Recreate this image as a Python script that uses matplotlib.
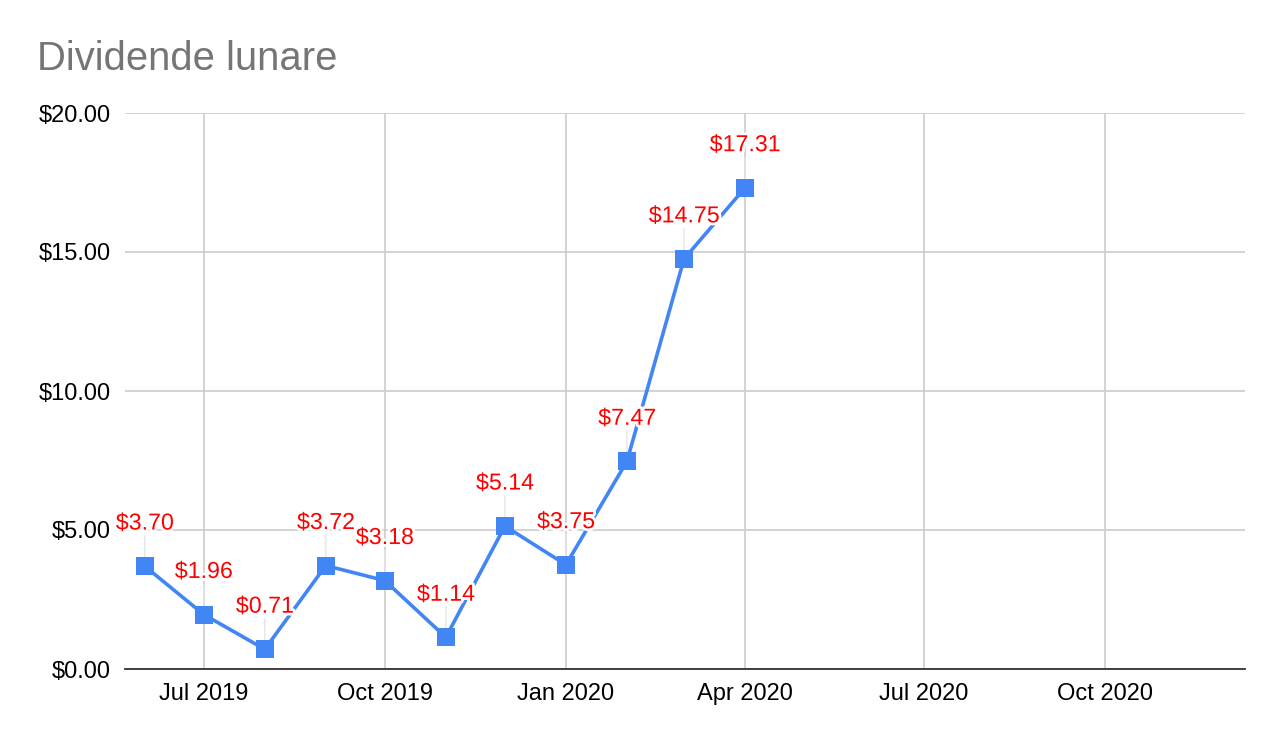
import datetime as dt
import matplotlib
matplotlib.use('Agg')
import matplotlib.pyplot as plt
import matplotlib.dates as mdates
import matplotlib.patheffects as pe

plt.rcParams['font.family'] = ['Liberation Sans', 'DejaVu Sans']

# monthly dividends
months = ['2019-06', '2019-07', '2019-08', '2019-09', '2019-10', '2019-11',
          '2019-12', '2020-01', '2020-02', '2020-03', '2020-04']
values = [3.70, 1.96, 0.71, 3.72, 3.18, 1.14, 5.14, 3.75, 7.47, 14.75, 17.31]
tick_months = ['2019-07', '2019-10', '2020-01', '2020-04', '2020-07', '2020-10']
yticks = [0, 5, 10, 15, 20]

dates = [dt.datetime.strptime(m, '%Y-%m') for m in months]
tdates = [dt.datetime.strptime(m, '%Y-%m') for m in tick_months]

fig = plt.figure(figsize=(12.82, 7.42), dpi=100)
ax = fig.add_axes([125 / 1282, 1 - 669 / 742, 1120 / 1282, 556 / 742])

blue = '#4285F4'
ax.plot(dates, values, color=blue, lw=2.6, marker='s', ms=12.5, zorder=3,
        markeredgewidth=0)

# data labels with leader lines
for d, v in zip(dates, values):
    ax.annotate('', xy=(d, v), xytext=(0, 22), textcoords='offset points',
                arrowprops=dict(arrowstyle='-', color='#e6e6e6', lw=1,
                                shrinkA=0, shrinkB=6), zorder=2)
    ax.annotate(f'${v:.2f}', xy=(d, v), xytext=(0, 31), textcoords='offset points',
                ha='center', va='center', color='#ff0000', fontsize=16.7, zorder=4,
                path_effects=[pe.withStroke(linewidth=4, foreground='white')])

ax.set_xlim(dt.datetime(2019, 5, 22), dt.datetime(2020, 12, 11))
ax.set_ylim(0, 20)
ax.set_xticks(tdates)
ax.xaxis.set_major_formatter(mdates.DateFormatter('%b %Y'))
ax.set_yticks(yticks)
ax.set_yticklabels([f'${y:.2f}' for y in yticks])
ax.tick_params(length=0, labelsize=17, colors='#000000', pad=10)
ax.tick_params(axis='x', pad=10)

ax.grid(True, color='#cccccc', lw=1.2)
ax.set_axisbelow(True)
for s in ['top', 'right', 'left']:
    ax.spines[s].set_visible(False)
ax.spines['bottom'].set_color('#333333')
ax.spines['bottom'].set_linewidth(1.3)

fig.text(37 / 1282, 1 - 70 / 742, 'Dividende lunare', fontsize=28.8, color='#757575',
         va='baseline', ha='left')

fig.savefig('out.png', dpi=100)
